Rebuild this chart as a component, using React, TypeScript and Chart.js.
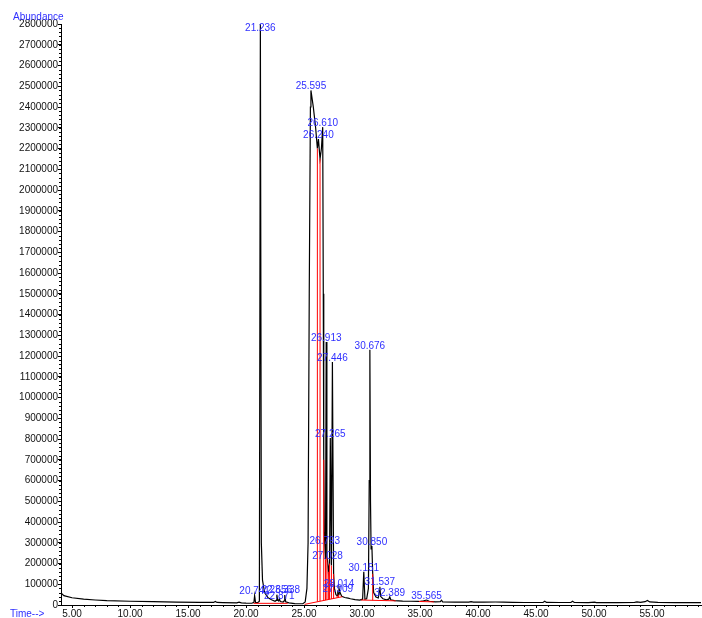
import { useEffect, useRef } from "react";
import { Chart, registerables } from "chart.js";

Chart.register(...registerables);

// Chromatogram trace (retention time in minutes, abundance)
const traceTimes = [
  4.05, 4.3, 5.0, 6.0, 7.0, 8.0, 10.0, 12.0, 14.0, 16.0, 17.2, 17.35, 17.5, 18.0, 19.2, 19.4, 19.6, 20.0,
  20.5, 20.68, 20.741, 20.82, 21.0, 21.15, 21.236, 21.32, 21.42, 21.6, 21.9, 22.2, 22.5, 22.6, 22.656,
  22.72, 22.8, 22.871, 22.95, 23.2, 23.28, 23.338, 23.42, 23.7, 24.2, 24.9, 25.1, 25.25, 25.35, 25.45,
  25.55, 25.595, 25.8, 26.0, 26.15, 26.24, 26.38, 26.5, 26.61, 26.66, 26.7, 26.75, 26.793, 26.85, 26.913,
  26.97, 27.028, 27.1, 27.2, 27.265, 27.36, 27.446, 27.55, 27.62, 27.75, 27.85, 27.909, 27.96, 28.014,
  28.1, 28.25, 28.5, 28.8, 29.0, 29.4, 29.8, 30.05, 30.151, 30.25, 30.4, 30.55, 30.62, 30.676, 30.73,
  30.78, 30.85, 30.92, 31.0, 31.2, 31.4, 31.5, 31.537, 31.6, 31.8, 32.1, 32.3, 32.389, 32.48, 32.8, 33.5,
  34.2, 34.9, 35.3, 35.565, 35.8, 36.3, 36.75, 36.85, 36.95, 38.0, 39.2, 39.4, 39.6, 40.5, 41.5, 42.2,
  43.0, 44.0, 45.6, 45.75, 45.9, 47.0, 48.0, 48.15, 48.3, 49.5, 50.05, 50.2, 52.0, 53.5, 53.7, 54.0, 54.4,
  54.6, 54.8, 55.5, 57.0, 59.3,
];
const traceAbundance = [
  58000, 45000, 35000, 28000, 24000, 21000, 18000, 16000, 14000, 13000, 12500, 17000, 12500, 11500, 10000, 14000, 10000, 9000,
  8500, 13000, 45000, 12000, 11000, 18000, 2800000, 300000, 120000, 60000, 35000, 25000, 18000, 22000, 50000,
  25000, 20000, 30000, 17000, 14000, 20000, 48000, 15000, 10000, 7000, 6000, 15000, 80000, 300000, 1500000,
  2400000, 2480000, 2400000, 2300000, 2200000, 2245000, 2150000, 2200000, 2303000, 1500000, 700000, 350000, 290000, 220000, 1267000,
  230000, 215000, 160000, 200000, 805000, 190000, 1171000, 150000, 80000, 50000, 45000, 58000, 50000, 82000,
  60000, 42000, 36000, 33000, 30000, 26000, 24000, 28000, 160000, 28000, 30000, 80000, 600000, 1230000, 500000,
  270000, 284000, 150000, 60000, 38000, 34000, 70000, 88000, 42000, 30000, 25000, 28000, 39000, 25000, 21000, 19000,
  18000, 17000, 20000, 24000, 18000, 15000, 16000, 23000, 15000, 14000, 13500, 16000, 13500, 14000, 14500, 14000,
  13000, 12000, 12000, 18000, 12500, 12000, 12000, 18000, 12000, 11500, 14000, 11500, 11000, 12500, 15000, 12500, 16000,
  22000, 15000, 12500, 11500, 11000,
];

// Integrated peaks: retention time labels and apex abundance
const peakLabels = [
  "20.741", "21.236", "22.656", "22.871", "23.338", "25.595", "26.240", "26.610", "26.793", "26.913",
  "27.028", "27.265", "27.446", "27.909", "28.014", "30.151", "30.676", "30.850", "31.537", "32.389", "35.565",
];
const peakTimes = [
  20.741, 21.236, 22.656, 22.871, 23.338, 25.595, 26.24, 26.61, 26.793, 26.913,
  27.028, 27.265, 27.446, 27.909, 28.014, 30.151, 30.676, 30.85, 31.537, 32.389, 35.565,
];
const peakHeights = [
  45000, 2800000, 50000, 25000, 50000, 2480000, 2245000, 2303000, 290000, 1267000,
  215000, 805000, 1171000, 58000, 82000, 160000, 1230000, 284000, 88000, 39000, 24000,
];

// Integration baselines (red)
const baseStartTimes = [20.65, 25.05, 29.9, 34.9];
const baseStartValues = [8000, 3000, 24000, 17000];
const baseEndTimes = [23.6, 28.3, 32.9, 36.2];
const baseEndValues = [8000, 40000, 20000, 15000];

// Peak split drop lines (red)
const dropTimes = [26.15, 26.38, 26.7, 26.85, 26.97, 27.1, 27.2, 27.36, 27.55, 27.85, 27.96, 30.25, 30.92];
const dropTops = [2200000, 2150000, 700000, 220000, 230000, 160000, 200000, 190000, 150000, 45000, 50000, 28000, 150000];

// Axis ticks
const xTickValues = [5, 10, 15, 20, 25, 30, 35, 40, 45, 50, 55];
const xMin = 4.05;
const xMax = 59.22;
const yMax = 2800000;
const yStep = 100000;

function baseAt(t: number): number {
  for (let i = 0; i < baseStartTimes.length; i++) {
    if (t >= baseStartTimes[i] && t <= baseEndTimes[i]) {
      const f = (t - baseStartTimes[i]) / (baseEndTimes[i] - baseStartTimes[i]);
      return baseStartValues[i] + f * (baseEndValues[i] - baseStartValues[i]);
    }
  }
  return 0;
}

export default function App() {
  const ref = useRef<HTMLCanvasElement | null>(null);

  useEffect(() => {
    document.body.style.margin = "0";
    if (!ref.current) return;

    const trace = traceTimes.map((t, i) => ({ x: t, y: traceAbundance[i] }));
    const baseData: any[] = [];
    baseStartTimes.forEach((t, i) => {
      baseData.push({ x: t, y: baseStartValues[i] });
      baseData.push({ x: baseEndTimes[i], y: baseEndValues[i] });
      baseData.push({ x: baseEndTimes[i] + 0.001, y: null });
    });
    const dropData: any[] = [];
    dropTimes.forEach((t, i) => {
      dropData.push({ x: t, y: baseAt(t) });
      dropData.push({ x: t, y: dropTops[i] });
      dropData.push({ x: t + 0.0005, y: null });
    });

    const decor = {
      id: "decor",
      afterDatasetsDraw(chart: any) {
        const { ctx, chartArea, scales } = chart;
        const xs = scales.x;
        const ys = scales.y;
        ctx.save();
        // peak labels
        ctx.font = "10px 'Liberation Sans', Arial, sans-serif";
        ctx.fillStyle = "#2f2fff";
        ctx.textAlign = "center";
        ctx.textBaseline = "middle";
        peakTimes.forEach((t, i) => {
          const px = xs.getPixelForValue(t);
          let py = ys.getPixelForValue(peakHeights[i]) - 4;
          if (py < chartArea.top + 4) py = chartArea.top + 4;
          ctx.fillText(peakLabels[i], px, py);
        });
        // minor y ticks
        ctx.strokeStyle = "#000";
        ctx.lineWidth = 1;
        ctx.beginPath();
        for (let v = 0; v <= yMax; v += yStep / 5) {
          const py = Math.round(ys.getPixelForValue(v)) + 0.5;
          ctx.moveTo(chartArea.left - 2, py);
          ctx.lineTo(chartArea.left, py);
        }
        // minor x ticks
        for (let v = Math.ceil(xMin); v <= xMax; v += 1) {
          const px = Math.round(xs.getPixelForValue(v)) + 0.5;
          ctx.moveTo(px, chartArea.bottom);
          ctx.lineTo(px, chartArea.bottom + 2);
        }
        ctx.stroke();
        // axis titles
        ctx.fillStyle = "#2f2fff";
        ctx.textAlign = "left";
        ctx.textBaseline = "middle";
        ctx.font = "10px 'Liberation Sans', Arial, sans-serif";
        ctx.fillText("Abundance", 13, 17);
        ctx.fillText("Time-->", 10, 614);
        ctx.restore();
      },
    };

    const chart = new Chart(ref.current, {
      type: "scatter",
      data: {
        datasets: [
          {
            data: dropData,
            showLine: true,
            borderColor: "#ff0000",
            borderWidth: 1,
            pointRadius: 0,
            spanGaps: false,
          },
          {
            data: baseData,
            showLine: true,
            borderColor: "#ff0000",
            borderWidth: 1,
            pointRadius: 0,
            spanGaps: false,
          },
          {
            data: trace,
            showLine: true,
            borderColor: "#000000",
            borderWidth: 1.2,
            pointRadius: 0,
            tension: 0,
          },
        ],
      },
      options: {
        responsive: false,
        animation: false,
        events: [],
        layout: { padding: { top: 24, right: 1, left: 0, bottom: 0 } },
        plugins: { legend: { display: false }, tooltip: { enabled: false }, title: { display: false } },
        scales: {
          x: {
            type: "linear",
            min: xMin,
            max: xMax,
            afterFit: (s: any) => {
              s.height = 13;
            },
            afterBuildTicks: (s: any) => {
              s.ticks = xTickValues.map((v) => ({ value: v }));
            },
            grid: { display: true, drawOnChartArea: false, tickLength: 3, color: "#000" },
            border: { display: true, color: "#000", width: 1 },
            ticks: {
              padding: 0,
              maxRotation: 0,
              autoSkip: false,
              color: "#111",
              font: { family: "'Liberation Sans', Arial, sans-serif", size: 10 },
              callback: (v: any) => Number(v).toFixed(2),
            },
          },
          y: {
            type: "linear",
            min: 0,
            max: yMax,
            afterFit: (s: any) => {
              s.width = 61;
            },
            grid: { display: true, drawOnChartArea: false, tickLength: 3, color: "#000" },
            border: { display: true, color: "#000", width: 1 },
            ticks: {
              stepSize: yStep,
              padding: 0,
              autoSkip: false,
              color: "#111",
              font: { family: "'Liberation Sans', Arial, sans-serif", size: 10 },
              callback: (v: any) => String(v),
            },
          },
        },
      },
      plugins: [decor],
    });

    return () => chart.destroy();
  }, []);

  return <canvas ref={ref} width={702} height={618} style={{ display: "block" }} />;
}
